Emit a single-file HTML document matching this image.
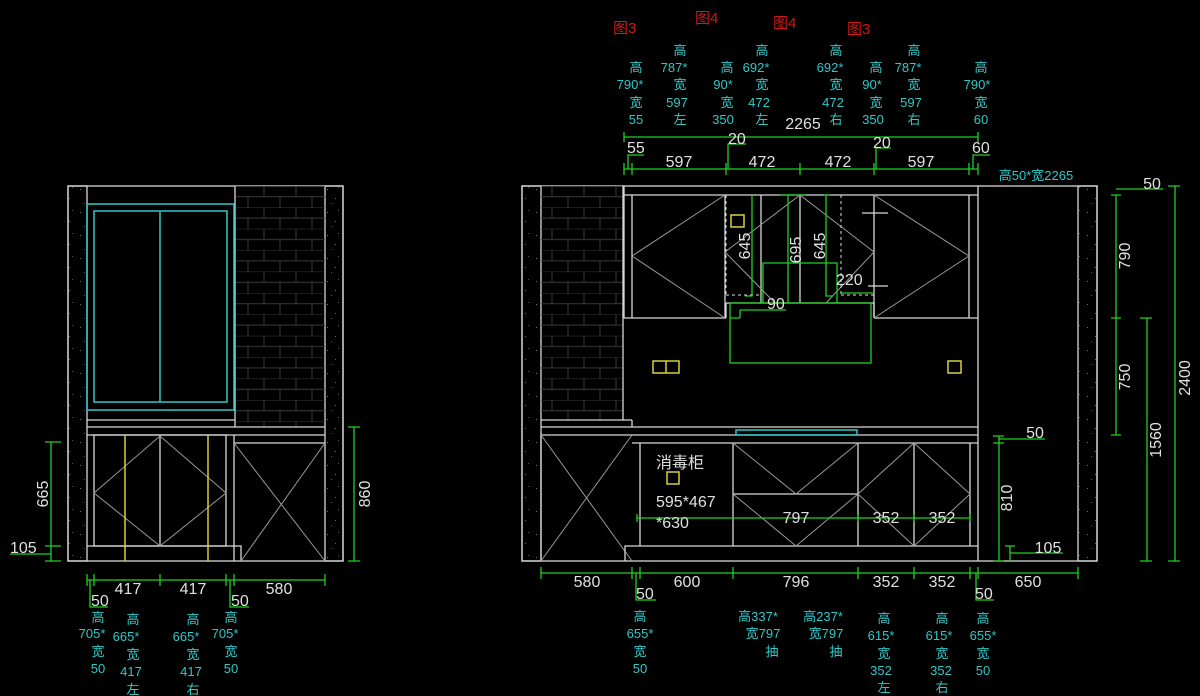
<!DOCTYPE html>
<html><head><meta charset="utf-8"><style>
html,body{margin:0;padding:0;background:#000;width:1200px;height:696px;overflow:hidden}
svg{display:block}
text{font-family:"Liberation Sans","Noto Sans CJK SC",sans-serif}
.w{fill:#e0e0e0;font-size:16px}
.c{fill:#30c8c8;font-size:13px;text-anchor:middle}
.r{fill:#d01818;font-size:15px}
</style></head><body>
<svg width="1200" height="696" viewBox="0 0 1200 696" xmlns="http://www.w3.org/2000/svg">
<defs>
<pattern id="brick" x="0" y="186" width="32" height="21.4" patternUnits="userSpaceOnUse">
<path d="M0 0H32M0 10.7H32M8 0V10.7M24 10.7V21.4" stroke="#3a3a3a" stroke-width="1" fill="none"/>
</pattern>
<pattern id="spk" width="19" height="23" patternUnits="userSpaceOnUse">
<rect x="4" y="5" width="1" height="1" fill="#777"/><rect x="12" y="14" width="1" height="1" fill="#666"/><rect x="8" y="19" width="1" height="1" fill="#555"/><rect x="15" y="3" width="1" height="1" fill="#555"/>
</pattern>
</defs>
<g fill="none" stroke="#d8d8d8" stroke-width="1.3">
<rect x="68" y="186" width="275" height="375"/>
<rect x="68" y="186" width="19" height="375" fill="url(#spk)"/>
<rect x="325" y="186" width="18" height="375" fill="url(#spk)"/>
<rect x="235" y="186" width="90" height="241" fill="url(#brick)" stroke="none"/>
<line x1="235" y1="186" x2="235" y2="427"/>
<line x1="87" y1="420" x2="235" y2="420"/>
<line x1="87" y1="427" x2="325" y2="427"/>
<line x1="87" y1="435" x2="325" y2="435"/>
<line x1="234" y1="443" x2="325" y2="443"/>
<line x1="234" y1="435" x2="234" y2="561"/>
<rect x="94" y="435" width="132" height="111"/>
<line x1="160" y1="435" x2="160" y2="546"/>
<path d="M87 546H241V561" />
<path d="M94 493L160 436L226 493L160 546Z" stroke="#999" stroke-width="1"/>
<path d="M234 443L325 561M325 443L241 561" stroke="#999" stroke-width="1"/>
<rect x="522" y="186" width="575" height="375"/>
<rect x="522" y="186" width="19" height="375" fill="url(#spk)"/>
<rect x="1078" y="186" width="19" height="375" fill="url(#spk)"/>
<rect x="541" y="186" width="82" height="234" fill="url(#brick)" stroke="none"/>
<line x1="623" y1="186" x2="623" y2="420"/>
<line x1="541" y1="420" x2="632" y2="420"/>
<line x1="632" y1="420" x2="632" y2="427"/>
<line x1="541" y1="427" x2="978" y2="427"/>
<line x1="541" y1="435" x2="978" y2="435"/>
<line x1="632" y1="443" x2="978" y2="443"/>
<line x1="978" y1="186" x2="978" y2="561"/>
<line x1="624" y1="186" x2="624" y2="318"/>
<line x1="624" y1="195" x2="978" y2="195"/>
<line x1="624" y1="318" x2="726" y2="318"/>
<line x1="874" y1="318" x2="978" y2="318"/>
<line x1="632" y1="195" x2="632" y2="318"/>
<line x1="725" y1="195" x2="725" y2="318"/>
<line x1="874" y1="195" x2="874" y2="318"/>
<line x1="969" y1="195" x2="969" y2="318"/>
<line x1="800" y1="195" x2="800" y2="303"/>
<line x1="761" y1="195" x2="761" y2="303"/>
<line x1="726" y1="303" x2="874" y2="303"/>
<path d="M726 303V318M874 303V318"/>
<path d="M632 256L725 195M632 256L725 318M969 256L874 195M969 256L874 318" stroke="#999" stroke-width="1"/>
<path d="M725 252L800 195L874 252M725 252L775 303M874 252L826 303" stroke="#999" stroke-width="1"/>
<path d="M726 195V295M841 195V295M726 295H760M841 295H874" stroke="#ddd" stroke-dasharray="3 3" stroke-width="1"/>
<line x1="862" y1="213" x2="888" y2="213"/>
<line x1="868" y1="286" x2="888" y2="286"/>
<line x1="541" y1="435" x2="541" y2="561"/>
<path d="M541 435L632 561M632 435L541 561" stroke="#999" stroke-width="1"/>
<line x1="640" y1="443" x2="640" y2="546"/>
<line x1="733" y1="443" x2="733" y2="546"/>
<line x1="858" y1="443" x2="858" y2="546"/>
<line x1="914" y1="443" x2="914" y2="546"/>
<line x1="970" y1="443" x2="970" y2="546"/>
<line x1="733" y1="494" x2="858" y2="494"/>
<path d="M625 561V546H978"/>
<path d="M733 443L796 494L858 443M733 494L796 546L858 494M914 443L858 494L914 546M914 443L970 494L914 546" stroke="#999" stroke-width="1"/>
</g>
<g fill="none" stroke="#30c8c8" stroke-width="1.5">
<rect x="87" y="204" width="147" height="206"/>
<rect x="94" y="211" width="133" height="191"/>
<line x1="160" y1="211" x2="160" y2="402"/>
<rect x="736" y="430" width="121" height="5"/>
</g>
<g fill="none" stroke="#d8d040" stroke-width="1.5">
<line x1="125" y1="435" x2="125" y2="561"/><line x1="208" y1="435" x2="208" y2="561"/>
<rect x="731" y="215" width="13" height="12"/>
<rect x="653" y="361" width="26" height="12"/><line x1="666" y1="361" x2="666" y2="373"/>
<rect x="948" y="361" width="13" height="12"/>
<rect x="667" y="472" width="12" height="12"/>
</g>
<g fill="none" stroke="#20d020" stroke-width="1.3">
<rect x="730" y="303" width="141" height="60"/>
<path d="M763 303V263H837V303"/>
<path d="M740 310H786M740 310V318M730 318H740"/>
<path d="M752 195V296H745M788 195V303M826 195V296H833M780 195H806M824 195H830"/>
<path d="M840 293H874"/>
<path d="M624 137H978M624 132V142M978 132V142"/>
<path d="M624 169H978"/>
<path d="M624 163V175M632 163V175M726 163V175M800 163V175M874 163V175M969 163V175M978 163V175"/>
<path d="M628 169V155H644M728 169V144H746M876 169V148H891M973 169V155H990"/>
<path d="M1116 195V435M1111 195H1121M1111 318H1121M1111 435H1121"/>
<path d="M1116 189H1163"/>
<path d="M1147 318V561M1140 318H1152M1140 561H1152"/>
<path d="M1175 186V561M1168 186H1180M1168 561H1180"/>
<path d="M999 436V561M993 436H1004M993 443H1004M993 561H1004M999 439H1045"/>
<path d="M1010 546V561M1010 553H1063M1005 546H1015"/>
<path d="M541 573H1078M541 567V579M632 567V579M640 567V579M733 567V579M858 567V579M914 567V579M970 567V579M978 567V579M1078 567V579"/>
<path d="M636 573V600H656M976 573V600H994"/>
<path d="M637 518H970M637 514V522M858 514V522M914 514V522M970 514V522"/>
<path d="M354 427V561M348 427H360M348 561H360"/>
<path d="M51 442V561M45 442H61M45 546H61M45 561H61M10 554H51"/>
<path d="M87 580H325M87 574V586M94 574V586M160 574V586M226 574V586M234 574V586M325 574V586"/>
<path d="M90 580V607H108M230 580V607H249"/>
</g>
<g class="w">
<text x="803" y="129" text-anchor="middle">2265</text>
<text x="627" y="153">55</text><text x="728" y="144">20</text><text x="873" y="148">20</text><text x="972" y="153">60</text>
<text x="679" y="167" text-anchor="middle">597</text><text x="762" y="167" text-anchor="middle">472</text><text x="838" y="167" text-anchor="middle">472</text><text x="921" y="167" text-anchor="middle">597</text>
<text x="836" y="285">220</text>
<text x="767" y="309">90</text>
<text x="1152" y="189" text-anchor="middle">50</text>
<text x="1035" y="438" text-anchor="middle">50</text>
<text x="1048" y="553" text-anchor="middle">105</text>
<text x="796" y="523" text-anchor="middle">797</text><text x="886" y="523" text-anchor="middle">352</text><text x="942" y="523" text-anchor="middle">352</text>
<text x="587" y="587" text-anchor="middle">580</text><text x="687" y="587" text-anchor="middle">600</text><text x="796" y="587" text-anchor="middle">796</text><text x="886" y="587" text-anchor="middle">352</text><text x="942" y="587" text-anchor="middle">352</text><text x="1028" y="587" text-anchor="middle">650</text>
<text x="636" y="599">50</text><text x="975" y="599">50</text>
<text x="128" y="594" text-anchor="middle">417</text><text x="193" y="594" text-anchor="middle">417</text><text x="279" y="594" text-anchor="middle">580</text>
<text x="91" y="606">50</text><text x="231" y="606">50</text>
<text x="10" y="553">105</text>
<text x="656" y="468">消毒柜</text>
<text x="656" y="507">595*467</text><text x="656" y="528">*630</text>
<text transform="translate(750 246) rotate(-90)" text-anchor="middle">645</text>
<text transform="translate(801 250) rotate(-90)" text-anchor="middle">695</text>
<text transform="translate(825 246) rotate(-90)" text-anchor="middle">645</text>
<text transform="translate(1130 256) rotate(-90)" text-anchor="middle">790</text>
<text transform="translate(1130 377) rotate(-90)" text-anchor="middle">750</text>
<text transform="translate(1161 440) rotate(-90)" text-anchor="middle">1560</text>
<text transform="translate(1190 378) rotate(-90)" text-anchor="middle">2400</text>
<text transform="translate(1012 498) rotate(-90)" text-anchor="middle">810</text>
<text transform="translate(48 494) rotate(-90)" text-anchor="middle">665</text>
<text transform="translate(370 494) rotate(-90)" text-anchor="middle">860</text>
</g>
<g class="r">
<text x="613" y="33">图3</text><text x="695" y="23">图4</text><text x="773" y="28">图4</text><text x="847" y="34">图3</text>
</g>
<g class="c">
<text x="636" y="72">高</text><text x="630" y="89">790*</text><text x="636" y="107">宽</text><text x="636" y="124">55</text>
<text x="680" y="55">高</text><text x="674" y="72">787*</text><text x="680" y="89">宽</text><text x="677" y="107">597</text><text x="680" y="124">左</text>
<text x="727" y="72">高</text><text x="723" y="89">90*</text><text x="727" y="107">宽</text><text x="723" y="124">350</text>
<text x="762" y="55">高</text><text x="756" y="72">692*</text><text x="762" y="89">宽</text><text x="759" y="107">472</text><text x="762" y="124">左</text>
<text x="836" y="55">高</text><text x="830" y="72">692*</text><text x="836" y="89">宽</text><text x="833" y="107">472</text><text x="836" y="124">右</text>
<text x="876" y="72">高</text><text x="872" y="89">90*</text><text x="876" y="107">宽</text><text x="873" y="124">350</text>
<text x="914" y="55">高</text><text x="908" y="72">787*</text><text x="914" y="89">宽</text><text x="911" y="107">597</text><text x="914" y="124">右</text>
<text x="981" y="72">高</text><text x="977" y="89">790*</text><text x="981" y="107">宽</text><text x="981" y="124">60</text>
<text x="1036" y="180">高50*宽2265</text>
<text x="640" y="621">高</text><text x="640" y="638">655*</text><text x="640" y="656">宽</text><text x="640" y="673">50</text>
<text x="758" y="621">高337*</text><text x="763" y="638">宽797</text><text x="772" y="656">抽</text>
<text x="823" y="621">高237*</text><text x="826" y="638">宽797</text><text x="836" y="656">抽</text>
<text x="884" y="623">高</text><text x="881" y="640">615*</text><text x="884" y="658">宽</text><text x="881" y="675">352</text><text x="884" y="692">左</text>
<text x="942" y="623">高</text><text x="939" y="640">615*</text><text x="942" y="658">宽</text><text x="941" y="675">352</text><text x="942" y="692">右</text>
<text x="983" y="623">高</text><text x="983" y="640">655*</text><text x="983" y="658">宽</text><text x="983" y="675">50</text>
<text x="98" y="622">高</text><text x="92" y="638">705*</text><text x="98" y="656">宽</text><text x="98" y="673">50</text>
<text x="133" y="624">高</text><text x="126" y="641">665*</text><text x="133" y="659">宽</text><text x="131" y="676">417</text><text x="133" y="694">左</text>
<text x="193" y="624">高</text><text x="186" y="641">665*</text><text x="193" y="659">宽</text><text x="191" y="676">417</text><text x="193" y="694">右</text>
<text x="231" y="622">高</text><text x="225" y="638">705*</text><text x="231" y="656">宽</text><text x="231" y="673">50</text>
</g>
</svg>
</body></html>
